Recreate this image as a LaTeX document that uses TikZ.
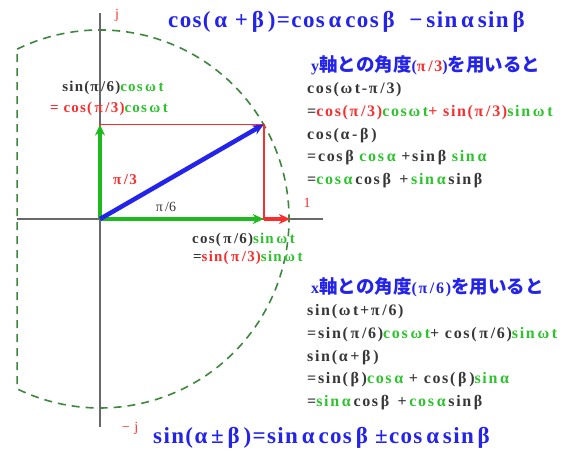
\documentclass[tikz,border=0pt]{standalone}
\usepackage{fontspec}
\setmainfont{Liberation Serif}
\newfontfamily\jpfont{Noto Sans CJK JP}
\usetikzlibrary{arrows.meta}

\definecolor{eqblue}{RGB}{35,35,235}
\definecolor{eqred}{RGB}{250,45,45}
\definecolor{eqgreen}{RGB}{45,195,45}
\definecolor{eqdark}{RGB}{55,55,55}
\definecolor{axisgray}{RGB}{105,105,105}
\definecolor{circgreen}{RGB}{60,135,60}
\definecolor{arrowgreen}{RGB}{30,185,30}

\newcommand\txtred[1]{\textcolor{eqred}{#1}}
\newcommand\txtgreen[1]{\textcolor{eqgreen}{#1}}
\newcommand\jp[1]{{\jpfont\bfseries\fontsize{18.5}{22.6}\selectfont #1}}

\begin{document}
\begin{tikzpicture}[x=1pt, y=1pt,
  axis/.style={draw=axisgray, line width=2pt},
  vec/.style={line width=3.2pt, -{Stealth[length=11pt, width=10pt]}},
  lbl/.style={text=eqdark, inner sep=0pt,
    font=\fontsize{15}{18}\selectfont\bfseries\addfontfeature{LetterSpace=8}},
  eqline/.style={text=eqdark, align=left, inner sep=0pt,
    font=\fontsize{16}{22.6}\selectfont\bfseries\addfontfeature{LetterSpace=10.5}},
  bigeq/.style={text=eqblue, inner sep=0pt,
    font=\fontsize{23}{26}\selectfont\bfseries\addfontfeature{LetterSpace=6}},
  axlbl/.style={text=eqred, inner sep=0pt, font=\fontsize{14}{16}\selectfont}]
  \useasboundingbox (-100,-233) rectangle (465,219);

  % unit circle, cut off on the left
  \draw[circgreen, line width=1.6pt, dash pattern=on 8pt off 6pt]
    (116:189) arc[start angle=116, end angle=-116, radius=189] -- cycle;

  % axes
  \draw[axis] (0,-208) -- (0,206);
  \draw[axis] (-83,0) -- (223,0);

  \coordinate (O) at (0,0);
  \coordinate (P) at (30:189);
  \coordinate (Px) at (P |- O);
  \coordinate (Py) at (P -| O);
  \coordinate (E) at (190,0);

  % projections
  \draw[eqred, line width=1.7pt] (O) -- (Py) -- (P) -- (Px) -- cycle;
  \draw[vec, arrowgreen] (O) -- (Py);
  \draw[vec, arrowgreen] (O) -- (Px);
  \draw[vec, eqred] (Px) -- (E);
  \draw[vec, eqblue, line width=4.5pt] (O) -- (P);

  % axis labels
  \node[axlbl] (jlbl) at (17,204) {j};
  \node[axlbl] (mjlbl) at (30,-209) {−\,\,j};
  \node[axlbl] (onelbl) at (207,16) {1};
  \node[lbl, text=eqred] (pi3) at (25,39) {π\,/3};
  \node[lbl, font=\fontsize{14}{16}\selectfont] (pi6) at (66,12) {π\,/6};

  % component labels
  \node[lbl] (ycomp1) at (13,131) {sin(π\,/6)\txtgreen{cos\,ω\,t}};
  \node[lbl] (ycomp2) at (9,110) {\txtred{= cos(\,π\,/3)}\txtgreen{cos\,ω\,t}};
  \node[lbl, anchor=west] (xcomp1) at (92,-21) {cos(\,π\,/6)\txtgreen{sin\,ω\,t}};
  \node[lbl, anchor=west] (xcomp2) at (93,-39) {=\txtred{sin(\,π\,/3)}\txtgreen{sin\,ω\,t}};

  % addition theorems
  \node[bigeq, anchor=west] (coseq) at (68,197)
    {cos(\,α\,\,+\,β\,)=cos\,α\,cos\,β \,\,−\,sin\,α\,sin\,β};
  \node[bigeq, anchor=west] (sineq) at (53,-219)
    {sin(α\,±\,β\,)=sin\,α\,cos\,β ±cos\,α\,sin\,β};

  % derivation from the y axis
  \node[eqline, anchor=west] (yderiv) at (207,97.5)
    {\hspace{4pt}\textcolor{eqblue}{y\jp{軸との角度}(\txtred{π\,/3})\jp{を用いると}}\\
     cos(ω\,t-π\,/3)\\
     =\txtred{cos(π\,/3)}\txtgreen{cosω\,t}\txtred{+ sin(π\,/3)}\txtgreen{sin\,ω\,t}\\
     cos(α\,-\,β\,)\\
     =cos\,β \txtgreen{cos\,α} +sin\,β \txtgreen{sin\,α}\\
     =\txtgreen{cos\,α}\,cos\,β \,+\,\txtgreen{sin\,α}\,sin\,β};

  % derivation from the x axis
  \node[eqline, anchor=west] (xderiv) at (207,-124.5)
    {\hspace{4pt}\textcolor{eqblue}{x\jp{軸との角度}(π\,/6)\jp{を用いると}}\\
     sin(ω\,t+π\,/6)\\
     =sin(\,π\,/6)\txtgreen{cos\,ω\,t}+ cos(\,π\,/6)\txtgreen{sin\,ω\,t}\\
     sin(α\,+\,β\,)\\
     =sin(\,β\,)\txtgreen{cos\,α} + cos(\,β\,)\txtgreen{sin\,α}\\
     =\txtgreen{sin\,α}\,cos\,β \,+\,\txtgreen{cos\,α}\,sin\,β};
\end{tikzpicture}
\end{document}
